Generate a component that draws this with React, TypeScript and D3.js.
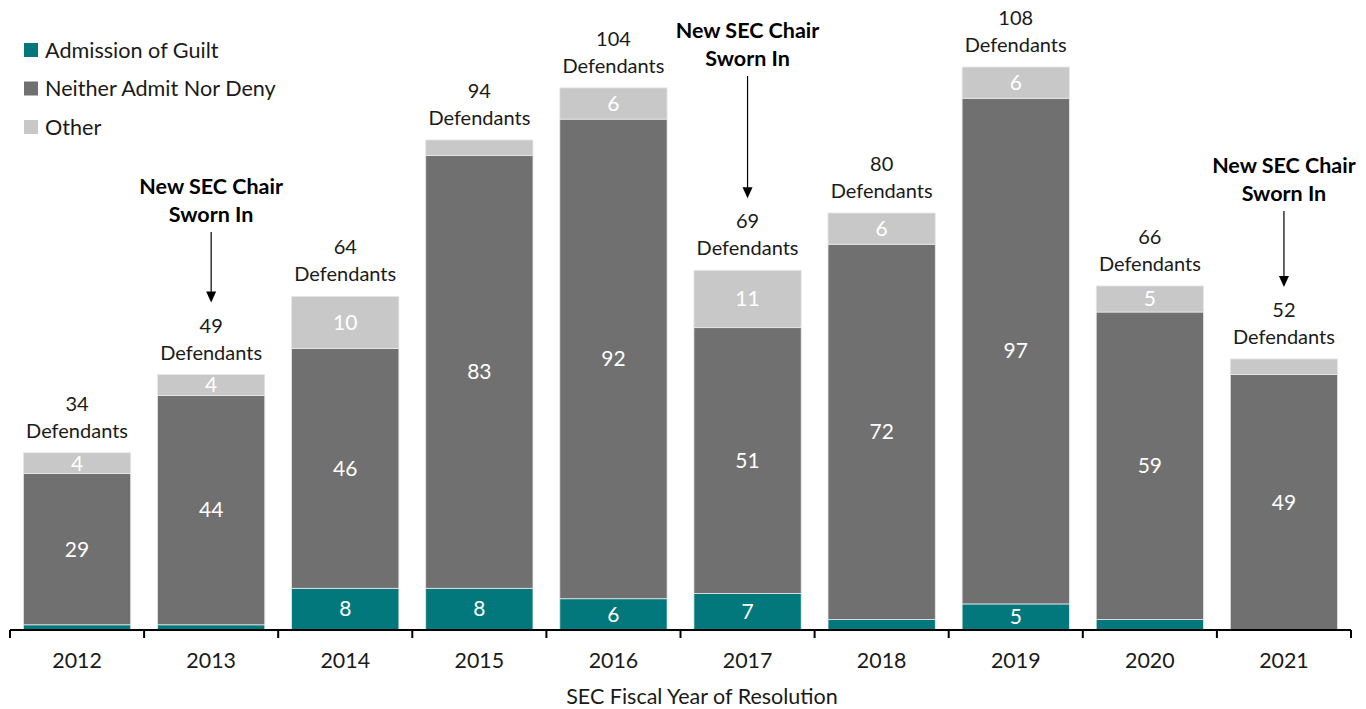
import React from "react";
import * as d3 from "d3";

const years = ["2012", "2013", "2014", "2015", "2016", "2017", "2018", "2019", "2020", "2021"];
const guilt = [1, 1, 8, 8, 6, 7, 2, 5, 2, 0];
const neither = [29, 44, 46, 83, 92, 51, 72, 97, 59, 49];
const other = [4, 4, 10, 3, 6, 11, 6, 6, 5, 3];
const seriesNames = ["Admission of Guilt", "Neither Admit Nor Deny", "Other"];
const seriesColors = ["#03787C", "#707070", "#C8C8C8"];
const annotatedYears = ["2013", "2017", "2021"];
const annotationLines = ["New SEC Chair", "Sworn In"];
const xTitle = "SEC Fiscal Year of Resolution";

// layout: top line y of each annotation
const annotationTextY: Record<string, number> = { "2013": 186, "2017": 30, "2021": 165 };

const W = 1366;
const H = 709;
const FONT = "Lato, 'Open Sans', sans-serif";

export default function App() {
  const x = d3.scaleBand<string>().domain(years).range([10, 1351]).paddingInner(0.2).paddingOuter(0.1);
  const y = d3.scaleLinear().domain([0, 108]).range([630, 67]);
  const rows = years.map((yr, i) => ({ year: yr, guilt: guilt[i], neither: neither[i], other: other[i] }));
  const keys = ["guilt", "neither", "other"];
  const stack = d3.stack<any>().keys(keys)(rows);
  const step = x.step();
  const tickXs = years.map((yr) => (x(yr) as number) - (step - x.bandwidth()) / 2);
  tickXs.push(1351);

  return (
    <svg width={W} height={H} style={{ position: "absolute", left: 0, top: 0, fontFamily: FONT }}>
      {stack.map((s, si) =>
        s.map((d, i) => {
          const v = d[1] - d[0];
          if (v <= 0) return null;
          const x0 = x(years[i]) as number;
          const yTop = y(d[1]);
          const yBot = y(d[0]);
          return (
            <g key={`${si}-${i}`}>
              <rect x={x0} y={yTop} width={x.bandwidth()} height={yBot - yTop} fill={seriesColors[si]} stroke="#E8E8E8" strokeWidth={0.8} />
              {v >= 4 && (
                <text x={x0 + x.bandwidth() / 2} y={(yTop + yBot) / 2} dy="0.35em" textAnchor="middle" fill="#FFFFFF" fontSize={21}>
                  {v}
                </text>
              )}
            </g>
          );
        })
      )}
      {rows.map((r, i) => {
        const total = r.guilt + r.neither + r.other;
        const cx = (x(r.year) as number) + x.bandwidth() / 2;
        const top = y(total);
        return (
          <g key={`t${i}`} fill="#1A1A1A" fontSize={20} textAnchor="middle">
            <text x={cx} y={top - 49} dy="0.35em">{total}</text>
            <text x={cx} y={top - 22} dy="0.35em">Defendants</text>
          </g>
        );
      })}
      {annotatedYears.map((yr) => {
        const i = years.indexOf(yr);
        const total = guilt[i] + neither[i] + other[i];
        const cx = (x(yr) as number) + x.bandwidth() / 2;
        const top = y(total);
        const tip = top - 72;
        const ty = annotationTextY[yr];
        const start = ty + 46;
        return (
          <g key={`a${yr}`}>
            <text x={cx} y={ty} dy="0.35em" textAnchor="middle" fontWeight="bold" fontSize={21.5} fill="#000">{annotationLines[0]}</text>
            <text x={cx} y={ty + 28} dy="0.35em" textAnchor="middle" fontWeight="bold" fontSize={21.5} fill="#000">{annotationLines[1]}</text>
            <line x1={cx} x2={cx} y1={start} y2={tip - 10} stroke="#000" strokeWidth={1.2} />
            <path d={`M${cx - 5},${tip - 11} L${cx + 5},${tip - 11} L${cx},${tip} Z`} fill="#000" />
          </g>
        );
      })}
      <line x1={10} x2={1351} y1={630} y2={630} stroke="#000" strokeWidth={2} />
      {tickXs.map((tx, i) => (
        <line key={`k${i}`} x1={tx} x2={tx} y1={630} y2={638} stroke="#000" strokeWidth={2} />
      ))}
      {years.map((yr) => (
        <text key={`y${yr}`} x={(x(yr) as number) + x.bandwidth() / 2} y={661} dy="0.35em" textAnchor="middle" fontSize={21.4} fill="#1A1A1A">{yr}</text>
      ))}
      <text x={702} y={696} dy="0.35em" textAnchor="middle" fontSize={21.5} fill="#1A1A1A">{xTitle}</text>
      {seriesNames.map((n, i) => (
        <g key={`l${i}`} transform={`translate(24, ${50 + i * 38.5})`}>
          <rect x={0} y={-7} width={14} height={14} fill={seriesColors[i]} />
          <text x={21} y={0} dy="0.35em" fontSize={21.6} fill="#1A1A1A">{n}</text>
        </g>
      ))}
    </svg>
  );
}
